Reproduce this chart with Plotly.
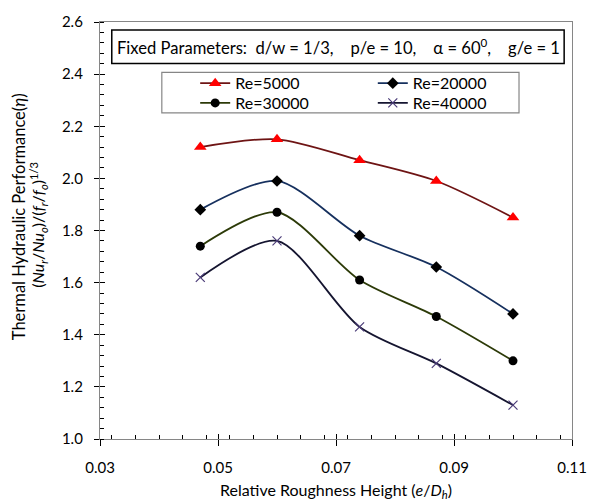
import plotly.graph_objects as go

# Relative roughness height e/Dh
roughness = [0.047, 0.060, 0.074, 0.087, 0.100]

# Thermal hydraulic performance for each Reynolds number
eta_re5000 = [2.12, 2.15, 2.07, 1.99, 1.85]
eta_re20000 = [1.88, 1.99, 1.78, 1.66, 1.48]
eta_re30000 = [1.74, 1.87, 1.61, 1.47, 1.30]
eta_re40000 = [1.62, 1.76, 1.43, 1.29, 1.13]

series_names = ["Re=5000", "Re=20000", "Re=30000", "Re=40000"]

FONT = "Lato"
AXIS_GREY = "#868686"

W, H = 599, 502
L, R, T, B = 100, 18, 17, 63
pw, ph = W - L - R, H - T - B


def px_x(px):
    return (px - L) / pw


def px_y(py):
    return (H - B - py) / ph


fig = go.Figure()

fig.add_trace(go.Scatter(
    x=roughness, y=eta_re5000, name=series_names[0], mode="lines+markers",
    line=dict(color="#6e1414", width=1.8, shape="spline", smoothing=0.8),
    marker=dict(symbol="triangle-up", size=11, color="#ff0000"),
    legend="legend",
))
fig.add_trace(go.Scatter(
    x=roughness, y=eta_re20000, name=series_names[1], mode="lines+markers",
    line=dict(color="#16305e", width=1.8, shape="spline", smoothing=0.8),
    marker=dict(symbol="diamond", size=9, color="#000000"),
    legend="legend2",
))
fig.add_trace(go.Scatter(
    x=roughness, y=eta_re30000, name=series_names[2], mode="lines+markers",
    line=dict(color="#2c3a08", width=1.8, shape="spline", smoothing=0.8),
    marker=dict(symbol="circle", size=9, color="#000000"),
    legend="legend3",
))
fig.add_trace(go.Scatter(
    x=roughness, y=eta_re40000, name=series_names[3], mode="lines+markers",
    line=dict(color="#151530", width=1.8, shape="spline", smoothing=0.8),
    marker=dict(symbol="x-thin", size=9, line=dict(color="#4b3c78", width=1.2)),
    legend="legend4",
))

legend_common = dict(
    xanchor="left", yanchor="middle",
    bgcolor="rgba(0,0,0,0)", borderwidth=0,
    font=dict(family=FONT, size=16, color="#000"),
    itemwidth=30,
)
col1, col2 = 197, 378
row1, row2 = 79, 99

fig.update_layout(
    width=W, height=H,
    margin=dict(l=L, r=R, t=T, b=B),
    paper_bgcolor="white", plot_bgcolor="white",
    font=dict(family=FONT, size=15, color="#000"),
    legend=dict(x=px_x(col1), y=px_y(row1), **legend_common),
    legend2=dict(x=px_x(col2), y=px_y(row1), **legend_common),
    legend3=dict(x=px_x(col1), y=px_y(row2), **legend_common),
    legend4=dict(x=px_x(col2), y=px_y(row2), **legend_common),
    xaxis=dict(
        range=[0.03, 0.11], dtick=0.02, tick0=0.03, tickformat=".2f",
        showgrid=False, zeroline=False,
        showline=True, linecolor=AXIS_GREY, linewidth=1.3, mirror=True,
        ticks="outside", ticklen=6, tickcolor="#000", tickwidth=1,
        minor=dict(dtick=0.004, ticks="inside", ticklen=4, tickcolor="#000", showgrid=False),
        tickfont=dict(family=FONT, size=15),
        ticklabelstandoff=9,
    ),
    yaxis=dict(
        range=[1.0, 2.6], dtick=0.2, tick0=1.0, tickformat=".1f",
        showgrid=False, zeroline=False,
        showline=True, linecolor=AXIS_GREY, linewidth=1.3, mirror=True,
        ticks="outside", ticklen=5, tickcolor="#000", tickwidth=1,
        minor=dict(dtick=0.04, ticks="inside", ticklen=4, tickcolor="#000", showgrid=False),
        tickfont=dict(family=FONT, size=15),
        ticklabelstandoff=8,
    ),
    # inner half of the crossing major ticks
    xaxis2=dict(
        overlaying="x", matches="x", range=[0.03, 0.11], dtick=0.02, tick0=0.03,
        showticklabels=False, showgrid=False, zeroline=False, showline=False,
        ticks="inside", ticklen=5, tickcolor="#000", side="bottom",
    ),
    yaxis2=dict(
        overlaying="y", matches="y", range=[1.0, 2.6], dtick=0.2, tick0=1.0,
        showticklabels=False, showgrid=False, zeroline=False, showline=False,
        ticks="inside", ticklen=5, tickcolor="#000", side="left",
    ),
)

# invisible trace to activate the overlay axes
fig.add_trace(go.Scatter(x=[0.03], y=[1.0], xaxis="x2", yaxis="y2",
                         mode="markers", marker=dict(opacity=0), showlegend=False,
                         hoverinfo="skip"))

# Legend frame
fig.add_shape(type="rect", xref="paper", yref="paper",
              x0=px_x(163), x1=px_x(527), y0=px_y(109), y1=px_y(68),
              line=dict(color=AXIS_GREY, width=1.2), fillcolor="rgba(0,0,0,0)")

# Fixed parameters box
fig.add_shape(type="rect", xref="paper", yref="paper",
              x0=px_x(112), x1=px_x(573), y0=px_y(59), y1=px_y(25),
              line=dict(color="#000", width=1.5), fillcolor="white", layer="above")
nb = "\u00a0"
fixed_text = (f"Fixed Parameters:{nb}{nb}d/w = 1/3,{nb*4}p/e = 10,{nb*4}"
              f"α = 60<sup>0</sup>,{nb*4}g/e = 1")
fig.add_annotation(
    xref="paper", yref="paper", x=px_x(343.5), y=px_y(42),
    xanchor="center", yanchor="middle", showarrow=False,
    text=fixed_text, font=dict(family=FONT, size=16.6, color="#000"),
)

# Axis titles
fig.add_annotation(
    xref="paper", yref="paper", x=0.5, y=px_y(491),
    xanchor="center", yanchor="middle", showarrow=False,
    text="Relative Roughness Height (<i>e</i>/<i>D<sub>h</sub></i>)",
    font=dict(family=FONT, size=16, color="#000"),
)
fig.add_annotation(
    xref="paper", yref="paper", x=px_x(17), y=px_y(214),
    xanchor="center", yanchor="middle", showarrow=False, textangle=-90,
    text="Thermal Hydraulic Performance(<i>η</i>)",
    font=dict(family=FONT, size=16.5, color="#000"),
)
fig.add_annotation(
    xref="paper", yref="paper", x=px_x(37), y=px_y(222),
    xanchor="center", yanchor="middle", showarrow=False, textangle=-90,
    text="(<i>Nu<sub>r</sub></i>/<i>Nu<sub>o</sub></i>)/(<i>f<sub>r</sub></i>/<i>f<sub>o</sub></i>)<sup>1/3</sup>",
    font=dict(family=FONT, size=16, color="#000"),
)

fig.write_html("out.html")
